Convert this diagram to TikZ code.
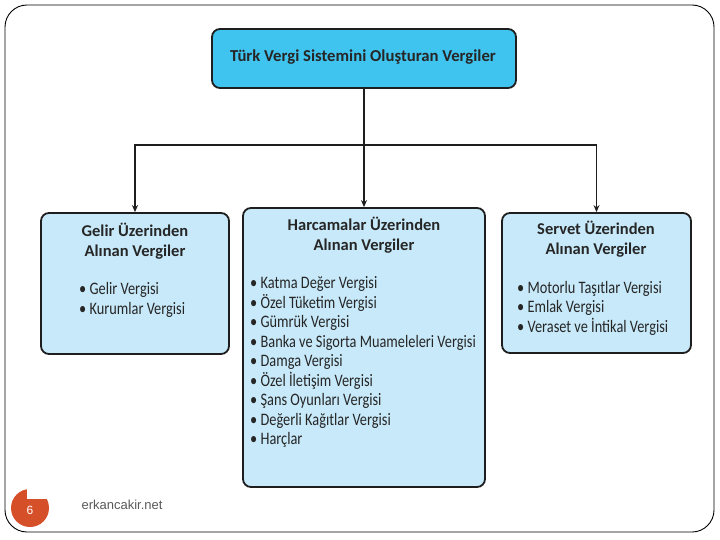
\documentclass[tikz,border=0pt]{standalone}
\usepackage{fontspec}
\setmainfont{Carlito}[FakeStretch=0.82]
\newfontfamily\headfont{Carlito}
\newfontfamily\footfont{Liberation Sans}
\usetikzlibrary{arrows.meta}
\definecolor{mainblue}{RGB}{63,195,239}
\definecolor{lightblue}{RGB}{199,233,249}
\definecolor{edgegray}{RGB}{30,30,30}
\definecolor{pgorange}{RGB}{213,80,40}
\begin{document}
\begin{tikzpicture}[x=1pt,y=-1pt,
    mainbox/.style={draw=edgegray,line width=1.8pt,rounded corners=8pt,fill=mainblue,minimum width=304pt,minimum height=59pt},
    subbox/.style={draw=edgegray,line width=1.8pt,rounded corners=8pt,fill=lightblue},
    boxtitle/.style={align=center,inner sep=0pt,font=\headfont\bfseries\fontsize{16.5}{20}\selectfont,text=black!85},
    boxlist/.style={align=left,anchor=west,inner sep=0pt,font=\fontsize{17.5}{19.5}\selectfont,text=black!85},
    link/.style={line width=1.8pt,edgegray},
    >={Stealth[length=7pt,width=6pt]}]
    \useasboundingbox (0,0) rectangle (720,540);
    \draw[line width=0.9pt,rounded corners=22pt] (5,5) rectangle (714,532);
    \node[mainbox] at (364,58.5) (sistem) {};
    \node[inner sep=0pt,font=\headfont\bfseries\fontsize{16.7}{20}\selectfont,text=black!85] at (363,57) (sistemtxt) {Türk Vergi Sistemini Oluşturan Vergiler};
    \node[subbox,minimum width=188pt,minimum height=141pt] at (135,283.5) (gelir) {};
    \node[subbox,minimum width=242pt,minimum height=279pt] at (364,347.5) (harcama) {};
    \node[subbox,minimum width=189pt,minimum height=140pt] at (596.5,283) (servet) {};
    \node[boxtitle] at (135,241) (gelirtitle) {Gelir Üzerinden\\Alınan Vergiler};
    \node[boxlist] at (79,300) (gelirlist) {• Gelir Vergisi\\• Kurumlar Vergisi};
    \node[boxtitle] at (364,235) (harcamatitle) {Harcamalar Üzerinden\\Alınan Vergiler};
    \node[boxlist] at (250,362) (harcamalist) {• Katma Değer Vergisi\\• Özel Tüketim Vergisi\\• Gümrük Vergisi\\• Banka ve Sigorta Muameleleri Vergisi\\• Damga Vergisi\\• Özel İletişim Vergisi\\• Şans Oyunları Vergisi\\• Değerli Kağıtlar Vergisi\\• Harçlar};
    \node[boxtitle] at (596,239) (servettitle) {Servet Üzerinden\\Alınan Vergiler};
    \node[boxlist] at (517,308) (servetlist) {• Motorlu Taşıtlar Vergisi\\• Emlak Vergisi\\• Veraset ve İntikal Vergisi};
    \coordinate (split) at (364,145);
    \draw[link] (sistem) -- (split);
    \draw[link,->] (split) -- (harcama);
    \draw[link,->] (split) -| (gelir);
    \draw[link,->] (split) -| (servet);
    \fill[pgorange] (30,508) circle (19pt);
    \fill[white] (27,487) rectangle (51,499);
    \node[text=white,font=\footfont\fontsize{12}{14}\selectfont] at (30,510) (pagenum) {6};
    \node[anchor=west,text=black!65,font=\footfont\fontsize{13}{15}\selectfont] at (78,505) (site) {erkancakir.net};
\end{tikzpicture}
\end{document}
